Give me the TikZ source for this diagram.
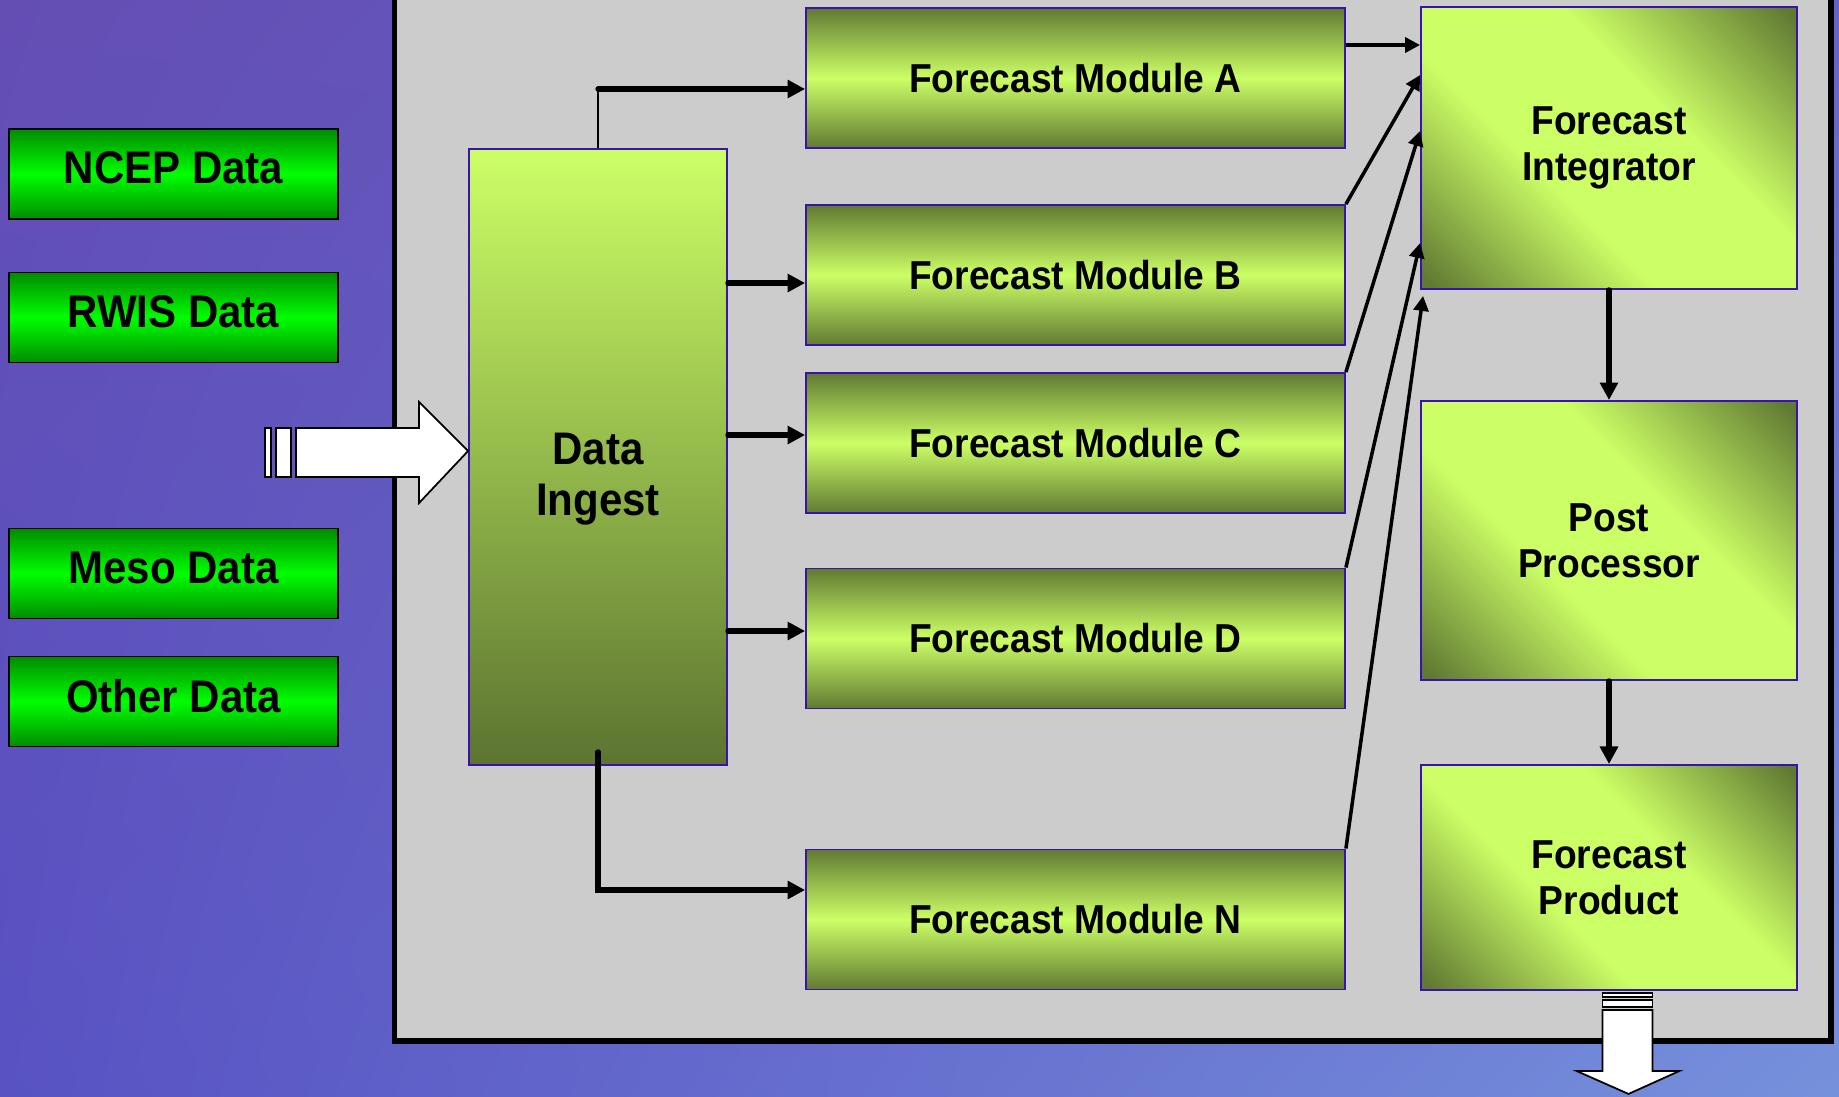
\documentclass[tikz,border=0pt]{standalone}
\usepackage{fontspec}
\setmainfont{Liberation Sans}[FakeStretch=0.92]
\usetikzlibrary{arrows.meta,positioning,calc,shadings}

\definecolor{panelgray}{RGB}{204,204,204}
\definecolor{boxedge}{RGB}{58,20,170}
\definecolor{limelight}{RGB}{204,255,102}
\definecolor{olivedark}{RGB}{97,122,51}
\definecolor{darkgrn}{RGB}{0,140,0}
\definecolor{brightgrn}{RGB}{0,255,0}
\definecolor{bgtl}{RGB}{100,78,180}
\definecolor{bgtr}{RGB}{100,100,200}
\definecolor{bgbl}{RGB}{88,82,195}
\definecolor{bgbr}{RGB}{118,145,220}

\pgfdeclareverticalshading{stageshade}{100bp}{color(0bp)=(olivedark); color(16bp)=(olivedark);
  color(40bp)=(limelight); color(60bp)=(limelight); color(84bp)=(olivedark); color(100bp)=(olivedark)}

\begin{document}
\begin{tikzpicture}[
    x=0.02cm, y=-0.02cm,
    font=\bfseries\fontsize{23}{26}\selectfont,
    source/.style={draw=black, line width=1.1pt, top color=darkgrn, bottom color=darkgrn, middle color=brightgrn,
      minimum width=6.58cm, minimum height=1.8cm, text depth=0.24cm, font=\bfseries\fontsize{26}{30}\selectfont},
    module/.style={draw=boxedge, line width=1.1pt, top color=olivedark, bottom color=olivedark, middle color=limelight,
      minimum width=10.78cm, minimum height=2.8cm},
    stage/.style={draw=boxedge, line width=1.1pt, shading=stageshade, shading angle=-45,
      minimum width=7.52cm, align=center},
    feed/.style={-{Triangle[length=10pt,width=10pt]}, line width=3pt, line cap=round},
    merge/.style={-{Triangle[length=8.5pt,width=8.5pt]}, line width=2pt},
    blockarrow/.style={draw=black, fill=white, line width=1pt, line join=miter}
  ]

  \useasboundingbox (0,0) rectangle (1839,1096);
  \clip (0,0) rectangle (1839,1096);

  % Background and system panel
  \shade[upper left=bgtl, upper right=bgtr, lower left=bgbl, lower right=bgbr] (0,0) rectangle (1839,1096);
  \draw[line width=2.9pt, fill=panelgray] (394.5,-20) rectangle (1831,1041);

  % Data sources
  \node[source] (ncep)  at (173.5,174)   {NCEP Data};
  \node[source] (rwis)  at (173.5,317.5) {RWIS Data};
  \node[source] (meso)  at (173.5,573.5) {Meso Data};
  \node[source] (other) at (173.5,701.5) {Other Data};

  % Ingest and forecast modules
  \node[draw=boxedge, line width=1.1pt, top color=limelight, bottom color=olivedark!95!black,
    minimum width=5.16cm, minimum height=12.32cm] (ingest) at (598,457) {};
  \node[align=center, font=\bfseries\fontsize{26}{29}\selectfont] (ingestlbl) at ($(ingest)+(0,22)$) {Data\\Ingest};
  \node[module] (modA) at (1075.5,78)    {Forecast Module A};
  \node[module] (modB) at (1075.5,275)   {Forecast Module B};
  \node[module] (modC) at (1075.5,443)   {Forecast Module C};
  \node[module] (modD) at (1075.5,638.5) {Forecast Module D};
  \node[module] (modN) at (1075.5,919.5) {Forecast Module N};

  % Integration chain
  \node[stage, minimum height=5.64cm] (integ) at (1609,148)   {Forecast\\Integrator};
  \node[stage, minimum height=5.58cm] (post)  at (1609,540.5) {Post\\Processor};
  \node[stage, minimum height=4.5cm]  (prod)  at (1609,877.5) {Forecast\\Product};

  % Data in
  \draw[blockarrow] (ingest.west |- 0,451) coordinate (tipL) -- ++(-49,-49) -- ++(0,26) -- ++(-123,0)
    -- ++(0,49) -- ++(123,0) -- ++(0,26) -- cycle;
  \draw[blockarrow] (tipL) ++(-177,-23) rectangle ++(-15,49);
  \draw[blockarrow] (tipL) ++(-197,-23) rectangle ++(-6,49);

  % Ingest to modules
  \draw[line width=1.2pt] (ingest.north) -- (ingest.north |- 0,89) coordinate (upA);
  \draw[feed] (upA) -- (modA.west |- upA);
  \draw[feed] (ingest.east |- 0,283) -- (modB.west |- 0,283);
  \draw[feed] (ingest.east |- 0,435) -- (modC.west |- 0,435);
  \draw[feed] (ingest.east |- 0,631) -- (modD.west |- 0,631);
  \draw[feed] ($(ingest.south)+(0,-14)$) |- (modN.west |- 0,890);

  % Modules to integrator
  \draw[merge] (modA.east |- 0,45) -- (integ.west |- 0,45);
  \draw[merge] (modB.north east) -- (integ.west |- 0,75);
  \draw[merge] (modC.north east) -- (integ.west |- 0,131);
  \draw[merge] (modD.north east) -- (integ.west |- 0,243);
  \draw[merge] (modN.north east) -- ($(integ.south west)+(3,6)$);

  \draw[feed] (integ.south) -- (post.north);
  \draw[feed] (post.south) -- (prod.north);

  % Product out
  \coordinate (outB) at ($(prod.south)+(19,0)$);
  \draw[blockarrow] (outB) ++(-25.5,19) -- ++(50,0) -- ++(0,61) -- ++(27,0) -- ++(-51,23)
    -- ++(-52,-23) -- ++(26,0) -- cycle;
  \draw[blockarrow] (outB) ++(-25.5,2) rectangle ++(50,4);
  \draw[blockarrow] (outB) ++(-25.5,9) rectangle ++(50,7);

\end{tikzpicture}
\end{document}
